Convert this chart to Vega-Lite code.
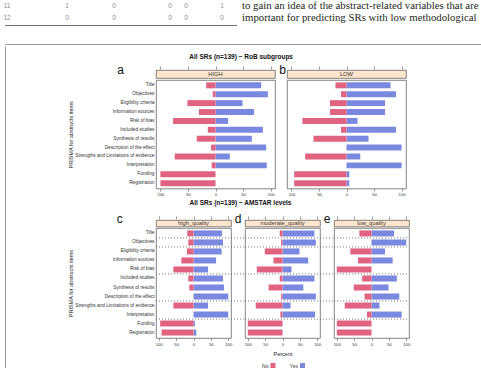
{
  "$schema": "https://vega.github.io/schema/vega-lite/v6.json",
  "padding": {"left": 3, "top": 0, "right": 0, "bottom": 0},
  "background": "white",
  "config": {
    "view": {"stroke": null},
    "font": "Liberation Sans",
    "axis": {"labelFont": "Liberation Sans", "titleFont": "Liberation Sans", "grid": false},
    "title": {"font": "Liberation Sans"},
    "text": {"font": "Liberation Sans"}
  },
  "datasets": {
    "table": [
      {"row": "11", "col": 1, "value": "11"}, {"row": "11", "col": 2, "value": "1"}, {"row": "11", "col": 3, "value": "0"},
      {"row": "11", "col": 4, "value": "0"}, {"row": "11", "col": 5, "value": "0"}, {"row": "11", "col": 6, "value": "1"},
      {"row": "12", "col": 1, "value": "12"}, {"row": "12", "col": 2, "value": "0"}, {"row": "12", "col": 3, "value": "0"},
      {"row": "12", "col": 4, "value": "0"}, {"row": "12", "col": 5, "value": "0"}, {"row": "12", "col": 6, "value": "0"}
    ],
    "separators": [
      {"after": "Title"}, {"after": "Objectives"}, {"after": "Risk of bias"},
      {"after": "Description of the effect"}, {"after": "Interpretation"}
    ],
    "likert": [
      {"panel": "HIGH", "item": "Title", "resp": "No", "pct": 17}, {"panel": "HIGH", "item": "Title", "resp": "Yes", "pct": 83},
      {"panel": "HIGH", "item": "Objectives", "resp": "No", "pct": 5}, {"panel": "HIGH", "item": "Objectives", "resp": "Yes", "pct": 95},
      {"panel": "HIGH", "item": "Eligibility criteria", "resp": "No", "pct": 51}, {"panel": "HIGH", "item": "Eligibility criteria", "resp": "Yes", "pct": 49},
      {"panel": "HIGH", "item": "Information sources", "resp": "No", "pct": 30}, {"panel": "HIGH", "item": "Information sources", "resp": "Yes", "pct": 70},
      {"panel": "HIGH", "item": "Risk of bias", "resp": "No", "pct": 77}, {"panel": "HIGH", "item": "Risk of bias", "resp": "Yes", "pct": 23},
      {"panel": "HIGH", "item": "Included studies", "resp": "No", "pct": 14}, {"panel": "HIGH", "item": "Included studies", "resp": "Yes", "pct": 86},
      {"panel": "HIGH", "item": "Synthesis of results", "resp": "No", "pct": 34}, {"panel": "HIGH", "item": "Synthesis of results", "resp": "Yes", "pct": 66},
      {"panel": "HIGH", "item": "Description of the effect", "resp": "No", "pct": 8}, {"panel": "HIGH", "item": "Description of the effect", "resp": "Yes", "pct": 92},
      {"panel": "HIGH", "item": "Strengths and Limitations of evidence", "resp": "No", "pct": 74}, {"panel": "HIGH", "item": "Strengths and Limitations of evidence", "resp": "Yes", "pct": 26},
      {"panel": "HIGH", "item": "Interpretation", "resp": "No", "pct": 7}, {"panel": "HIGH", "item": "Interpretation", "resp": "Yes", "pct": 93},
      {"panel": "HIGH", "item": "Funding", "resp": "No", "pct": 100}, {"panel": "HIGH", "item": "Funding", "resp": "Yes", "pct": 0},
      {"panel": "HIGH", "item": "Registration", "resp": "No", "pct": 100}, {"panel": "HIGH", "item": "Registration", "resp": "Yes", "pct": 0},

      {"panel": "LOW", "item": "Title", "resp": "No", "pct": 20}, {"panel": "LOW", "item": "Title", "resp": "Yes", "pct": 80},
      {"panel": "LOW", "item": "Objectives", "resp": "No", "pct": 10}, {"panel": "LOW", "item": "Objectives", "resp": "Yes", "pct": 90},
      {"panel": "LOW", "item": "Eligibility criteria", "resp": "No", "pct": 30}, {"panel": "LOW", "item": "Eligibility criteria", "resp": "Yes", "pct": 70},
      {"panel": "LOW", "item": "Information sources", "resp": "No", "pct": 30}, {"panel": "LOW", "item": "Information sources", "resp": "Yes", "pct": 70},
      {"panel": "LOW", "item": "Risk of bias", "resp": "No", "pct": 80}, {"panel": "LOW", "item": "Risk of bias", "resp": "Yes", "pct": 20},
      {"panel": "LOW", "item": "Included studies", "resp": "No", "pct": 10}, {"panel": "LOW", "item": "Included studies", "resp": "Yes", "pct": 90},
      {"panel": "LOW", "item": "Synthesis of results", "resp": "No", "pct": 60}, {"panel": "LOW", "item": "Synthesis of results", "resp": "Yes", "pct": 40},
      {"panel": "LOW", "item": "Description of the effect", "resp": "No", "pct": 0}, {"panel": "LOW", "item": "Description of the effect", "resp": "Yes", "pct": 100},
      {"panel": "LOW", "item": "Strengths and Limitations of evidence", "resp": "No", "pct": 75}, {"panel": "LOW", "item": "Strengths and Limitations of evidence", "resp": "Yes", "pct": 25},
      {"panel": "LOW", "item": "Interpretation", "resp": "No", "pct": 0}, {"panel": "LOW", "item": "Interpretation", "resp": "Yes", "pct": 100},
      {"panel": "LOW", "item": "Funding", "resp": "No", "pct": 95}, {"panel": "LOW", "item": "Funding", "resp": "Yes", "pct": 5},
      {"panel": "LOW", "item": "Registration", "resp": "No", "pct": 95}, {"panel": "LOW", "item": "Registration", "resp": "Yes", "pct": 5},

      {"panel": "high_quality", "item": "Title", "resp": "No", "pct": 18}, {"panel": "high_quality", "item": "Title", "resp": "Yes", "pct": 82},
      {"panel": "high_quality", "item": "Objectives", "resp": "No", "pct": 15}, {"panel": "high_quality", "item": "Objectives", "resp": "Yes", "pct": 85},
      {"panel": "high_quality", "item": "Eligibility criteria", "resp": "No", "pct": 19}, {"panel": "high_quality", "item": "Eligibility criteria", "resp": "Yes", "pct": 81},
      {"panel": "high_quality", "item": "Information sources", "resp": "No", "pct": 35}, {"panel": "high_quality", "item": "Information sources", "resp": "Yes", "pct": 65},
      {"panel": "high_quality", "item": "Risk of bias", "resp": "No", "pct": 58}, {"panel": "high_quality", "item": "Risk of bias", "resp": "Yes", "pct": 42},
      {"panel": "high_quality", "item": "Included studies", "resp": "No", "pct": 15}, {"panel": "high_quality", "item": "Included studies", "resp": "Yes", "pct": 85},
      {"panel": "high_quality", "item": "Synthesis of results", "resp": "No", "pct": 12}, {"panel": "high_quality", "item": "Synthesis of results", "resp": "Yes", "pct": 88},
      {"panel": "high_quality", "item": "Description of the effect", "resp": "No", "pct": 0}, {"panel": "high_quality", "item": "Description of the effect", "resp": "Yes", "pct": 100},
      {"panel": "high_quality", "item": "Strengths and Limitations of evidence", "resp": "No", "pct": 58}, {"panel": "high_quality", "item": "Strengths and Limitations of evidence", "resp": "Yes", "pct": 42},
      {"panel": "high_quality", "item": "Interpretation", "resp": "No", "pct": 0}, {"panel": "high_quality", "item": "Interpretation", "resp": "Yes", "pct": 100},
      {"panel": "high_quality", "item": "Funding", "resp": "No", "pct": 96}, {"panel": "high_quality", "item": "Funding", "resp": "Yes", "pct": 4},
      {"panel": "high_quality", "item": "Registration", "resp": "No", "pct": 92}, {"panel": "high_quality", "item": "Registration", "resp": "Yes", "pct": 8},

      {"panel": "moderate_quality", "item": "Title", "resp": "No", "pct": 8}, {"panel": "moderate_quality", "item": "Title", "resp": "Yes", "pct": 92},
      {"panel": "moderate_quality", "item": "Objectives", "resp": "No", "pct": 4}, {"panel": "moderate_quality", "item": "Objectives", "resp": "Yes", "pct": 96},
      {"panel": "moderate_quality", "item": "Eligibility criteria", "resp": "No", "pct": 51}, {"panel": "moderate_quality", "item": "Eligibility criteria", "resp": "Yes", "pct": 49},
      {"panel": "moderate_quality", "item": "Information sources", "resp": "No", "pct": 26}, {"panel": "moderate_quality", "item": "Information sources", "resp": "Yes", "pct": 74},
      {"panel": "moderate_quality", "item": "Risk of bias", "resp": "No", "pct": 74}, {"panel": "moderate_quality", "item": "Risk of bias", "resp": "Yes", "pct": 26},
      {"panel": "moderate_quality", "item": "Included studies", "resp": "No", "pct": 8}, {"panel": "moderate_quality", "item": "Included studies", "resp": "Yes", "pct": 92},
      {"panel": "moderate_quality", "item": "Synthesis of results", "resp": "No", "pct": 40}, {"panel": "moderate_quality", "item": "Synthesis of results", "resp": "Yes", "pct": 60},
      {"panel": "moderate_quality", "item": "Description of the effect", "resp": "No", "pct": 4}, {"panel": "moderate_quality", "item": "Description of the effect", "resp": "Yes", "pct": 96},
      {"panel": "moderate_quality", "item": "Strengths and Limitations of evidence", "resp": "No", "pct": 77}, {"panel": "moderate_quality", "item": "Strengths and Limitations of evidence", "resp": "Yes", "pct": 23},
      {"panel": "moderate_quality", "item": "Interpretation", "resp": "No", "pct": 6}, {"panel": "moderate_quality", "item": "Interpretation", "resp": "Yes", "pct": 94},
      {"panel": "moderate_quality", "item": "Funding", "resp": "No", "pct": 100}, {"panel": "moderate_quality", "item": "Funding", "resp": "Yes", "pct": 0},
      {"panel": "moderate_quality", "item": "Registration", "resp": "No", "pct": 100}, {"panel": "moderate_quality", "item": "Registration", "resp": "Yes", "pct": 0},

      {"panel": "low_quality", "item": "Title", "resp": "No", "pct": 35}, {"panel": "low_quality", "item": "Title", "resp": "Yes", "pct": 65},
      {"panel": "low_quality", "item": "Objectives", "resp": "No", "pct": 0}, {"panel": "low_quality", "item": "Objectives", "resp": "Yes", "pct": 100},
      {"panel": "low_quality", "item": "Eligibility criteria", "resp": "No", "pct": 61}, {"panel": "low_quality", "item": "Eligibility criteria", "resp": "Yes", "pct": 39},
      {"panel": "low_quality", "item": "Information sources", "resp": "No", "pct": 39}, {"panel": "low_quality", "item": "Information sources", "resp": "Yes", "pct": 61},
      {"panel": "low_quality", "item": "Risk of bias", "resp": "No", "pct": 100}, {"panel": "low_quality", "item": "Risk of bias", "resp": "Yes", "pct": 0},
      {"panel": "low_quality", "item": "Included studies", "resp": "No", "pct": 27}, {"panel": "low_quality", "item": "Included studies", "resp": "Yes", "pct": 73},
      {"panel": "low_quality", "item": "Synthesis of results", "resp": "No", "pct": 51}, {"panel": "low_quality", "item": "Synthesis of results", "resp": "Yes", "pct": 49},
      {"panel": "low_quality", "item": "Description of the effect", "resp": "No", "pct": 20}, {"panel": "low_quality", "item": "Description of the effect", "resp": "Yes", "pct": 80},
      {"panel": "low_quality", "item": "Strengths and Limitations of evidence", "resp": "No", "pct": 77}, {"panel": "low_quality", "item": "Strengths and Limitations of evidence", "resp": "Yes", "pct": 23},
      {"panel": "low_quality", "item": "Interpretation", "resp": "No", "pct": 13}, {"panel": "low_quality", "item": "Interpretation", "resp": "Yes", "pct": 87},
      {"panel": "low_quality", "item": "Funding", "resp": "No", "pct": 100}, {"panel": "low_quality", "item": "Funding", "resp": "Yes", "pct": 0},
      {"panel": "low_quality", "item": "Registration", "resp": "No", "pct": 100}, {"panel": "low_quality", "item": "Registration", "resp": "Yes", "pct": 0}
    ]
  },
  "spacing": 17,
  "vconcat": [
    {
      "spacing": 0,
      "vconcat": [
        {
          "spacing": 5,
          "hconcat": [
            {
              "width": 232, "height": 24,
              "data": {"name": "table"},
              "mark": {"type": "text", "fontSize": 6.5, "color": "#8a8a8a", "baseline": "middle"},
              "encoding": {
                "x": {"field": "col", "type": "quantitative", "scale": {"domain": [1, 2, 3, 4, 5, 6], "range": [2, 62, 109, 165, 181, 217]}, "axis": null},
                "y": {"field": "row", "type": "ordinal", "scale": {"type": "point", "padding": 0.53, "align": 0.41}, "axis": null},
                "text": {"field": "value"}
              }
            },
            {
              "width": 238, "height": 24,
              "data": {"values": [
                {"line": 1, "text": "to gain an idea of the abstract-related variables that are"},
                {"line": 2, "text": "important for predicting SRs with low methodological"}
              ]},
              "mark": {"type": "text", "align": "left", "baseline": "middle", "font": "Liberation Serif", "fontSize": 10.8, "color": "#231f20"},
              "encoding": {
                "x": {"datum": 0, "type": "quantitative", "scale": {"domain": [0, 1]}, "axis": null},
                "y": {"field": "line", "type": "ordinal", "scale": {"type": "point", "padding": 0.53, "align": 0.41}, "axis": null},
                "text": {"field": "text"}
              }
            }
          ]
        },
        {"width": 232, "height": 1, "view": {"fill": "#6f6f6f", "stroke": null}, "data": {"values": []}, "mark": "point"}
      ]
    },
    {
      "spacing": 0,
      "vconcat": [
        {"width": 476, "height": 0.01, "view": {"stroke": "#9a9a9a", "strokeWidth": 1}, "data": {"values": []}, "mark": "point"},
        {
          "spacing": 61,
          "hconcat": [
            {"width": 0.01, "height": 324, "view": {"stroke": "#9a9a9a", "strokeWidth": 1}, "data": {"values": []}, "mark": "point"},
            {
              "spacing": 0,
              "vconcat": [
                {"width": 270, "height": 7.5, "data": {"values": []}, "mark": "point"},
                {
                  "title": {"text": "All SRs (n=139) ~ RoB subgroups", "fontSize": 6.5, "fontWeight": "bold", "anchor": "middle", "offset": 3, "dx": 4, "color": "#111"},
                  "spacing": 2,
                  "hconcat": [
                    {
                      "spacing": 0,
                      "vconcat": [
                        {
                          "width": 119, "height": 8,
                          "view": {"fill": "#FFE5CC", "stroke": "#666", "strokeWidth": 0.8},
                          "title": {"text": "a", "orient": "left", "angle": 0, "align": "right", "baseline": "alphabetic", "anchor": "middle", "offset": 25.5, "fontSize": 12, "fontWeight": "normal", "color": "#111"},
                          "data": {"values": [{"panel": "HIGH"}]},
                          "mark": {"type": "text", "fontSize": 5.8, "color": "#333", "baseline": "middle"},
                          "encoding": {
                            "x": {"datum": 0, "type": "quantitative", "scale": {"domain": [-108, 108]},
                              "axis": {"orient": "top", "values": [-100, -50, 0, 50, 100], "labels": false, "domain": false, "tickSize": 3, "tickWidth": 0.6, "tickColor": "#555", "offset": 1, "title": null}},
                            "text": {"field": "panel"}
                          }
                        },
                        {
                          "width": 119, "height": 108.5,
                          "view": {"stroke": "#666", "strokeWidth": 0.8},
                          "data": {"name": "likert"},
                          "encoding": {
                            "y": {"field": "item", "type": "nominal",
                              "scale": {"domain": ["Title", "Objectives", "Eligibility criteria", "Information sources", "Risk of bias", "Included studies", "Synthesis of results", "Description of the effect", "Strengths and Limitations of evidence", "Interpretation", "Funding", "Registration"], "paddingInner": 0.33, "paddingOuter": 0.265},
                              "axis": {"title": "PRISMA for abstracts items", "titleFontSize": 5.5, "titleFontWeight": "normal", "titleColor": "#222", "titlePadding": 1.5, "labelFontSize": 4.75, "labelColor": "#333", "labelPadding": 2, "ticks": false, "domain": false, "labelLimit": 300}},
                            "color": {"field": "resp", "type": "nominal", "scale": {"domain": ["No", "Yes"], "range": ["#E06482", "#7A88E0"]}, "legend": null}
                          },
                          "layer": [
                            {
                              "transform": [{"filter": "datum.panel === 'HIGH' && datum.resp === 'Yes'"}],
                              "mark": "bar",
                              "encoding": {
                                "x": {"field": "pct", "type": "quantitative", "scale": {"domain": [-108, 108]},
                                  "axis": {"orient": "bottom", "values": [-100, -50, 0, 50, 100], "labelExpr": "'' + abs(datum.value)", "title": null, "domain": false, "tickSize": 2.5, "tickWidth": 0.6, "tickColor": "#555", "labelFontSize": 4.2, "labelColor": "#333", "labelPadding": 1.5, "labelOverlap": false, "labelFlush": false}},
                                "x2": {"datum": 0}
                              }
                            },
                            {
                              "transform": [{"filter": "datum.panel === 'HIGH' && datum.resp === 'No'"}],
                              "mark": "bar",
                              "encoding": {
                                "x": {"field": "pct", "type": "quantitative", "scale": {"domain": [-108, 108], "reverse": true}, "axis": null},
                                "x2": {"datum": 0}
                              }
                            }
                          ],
                          "resolve": {"scale": {"x": "independent"}}
                        }
                      ]
                    },
                    {
                      "spacing": 0,
                      "vconcat": [
                        {
                          "width": 119, "height": 8,
                          "view": {"fill": "#FFE5CC", "stroke": "#666", "strokeWidth": 0.8},
                          "title": {"text": "b", "orient": "left", "angle": 0, "align": "right", "baseline": "alphabetic", "anchor": "middle", "offset": -5.5, "fontSize": 12, "fontWeight": "normal", "color": "#111"},
                          "data": {"values": [{"panel": "LOW"}]},
                          "mark": {"type": "text", "fontSize": 5.8, "color": "#333", "baseline": "middle"},
                          "encoding": {
                            "x": {"datum": 0, "type": "quantitative", "scale": {"domain": [-108, 108]},
                              "axis": {"orient": "top", "values": [-100, -50, 0, 50, 100], "labels": false, "domain": false, "tickSize": 3, "tickWidth": 0.6, "tickColor": "#555", "offset": 1, "title": null}},
                            "text": {"field": "panel"}
                          }
                        },
                        {
                          "width": 119, "height": 108.5,
                          "view": {"stroke": "#666", "strokeWidth": 0.8},
                          "data": {"name": "likert"},
                          "encoding": {
                            "y": {"field": "item", "type": "nominal",
                              "scale": {"domain": ["Title", "Objectives", "Eligibility criteria", "Information sources", "Risk of bias", "Included studies", "Synthesis of results", "Description of the effect", "Strengths and Limitations of evidence", "Interpretation", "Funding", "Registration"], "paddingInner": 0.33, "paddingOuter": 0.265},
                              "axis": null},
                            "color": {"field": "resp", "type": "nominal", "scale": {"domain": ["No", "Yes"], "range": ["#E06482", "#7A88E0"]}, "legend": null}
                          },
                          "layer": [
                            {
                              "transform": [{"filter": "datum.panel === 'LOW' && datum.resp === 'Yes'"}],
                              "mark": "bar",
                              "encoding": {
                                "x": {"field": "pct", "type": "quantitative", "scale": {"domain": [-108, 108]},
                                  "axis": {"orient": "bottom", "values": [-100, -50, 0, 50, 100], "labelExpr": "'' + abs(datum.value)", "title": null, "domain": false, "tickSize": 2.5, "tickWidth": 0.6, "tickColor": "#555", "labelFontSize": 4.2, "labelColor": "#333", "labelPadding": 1.5, "labelOverlap": false, "labelFlush": false}},
                                "x2": {"datum": 0}
                              }
                            },
                            {
                              "transform": [{"filter": "datum.panel === 'LOW' && datum.resp === 'No'"}],
                              "mark": "bar",
                              "encoding": {
                                "x": {"field": "pct", "type": "quantitative", "scale": {"domain": [-108, 108], "reverse": true}, "axis": null},
                                "x2": {"datum": 0}
                              }
                            }
                          ],
                          "resolve": {"scale": {"x": "independent"}}
                        }
                      ]
                    }
                  ]
                },
                {"width": 1, "height": 1.5, "data": {"values": []}, "mark": "point"},
                {
                  "title": {"text": "All SRs (n=139) ~ AMSTAR levels", "fontSize": 6.5, "fontWeight": "bold", "anchor": "middle", "offset": 6, "dx": 1.5, "color": "#111"},
                  "spacing": -18,
                  "hconcat": [
                    {
                      "spacing": 0,
                      "vconcat": [
                        {
                          "width": 75, "height": 6.5,
                          "view": {"fill": "#FFE5CC", "stroke": "#666", "strokeWidth": 0.8},
                          "title": {"text": "c", "orient": "left", "angle": 0, "align": "right", "baseline": "alphabetic", "anchor": "middle", "offset": 27.2, "fontSize": 12, "fontWeight": "normal", "color": "#111"},
                          "data": {"values": [{"panel": "high_quality"}]},
                          "mark": {"type": "text", "fontSize": 5.8, "color": "#333", "baseline": "middle"},
                          "encoding": {
                            "x": {"datum": 0, "type": "quantitative", "scale": {"domain": [-108, 108]},
                              "axis": {"orient": "top", "values": [-100, -50, 0, 50, 100], "labels": false, "domain": false, "tickSize": 3, "tickWidth": 0.6, "tickColor": "#555", "offset": 1, "title": null}},
                            "text": {"field": "panel"}
                          }
                        },
                        {
                          "width": 75, "height": 110,
                          "view": {"stroke": "#666", "strokeWidth": 0.8},
                          "data": {"name": "likert"},
                          "encoding": {
                            "y": {"field": "item", "type": "nominal",
                              "scale": {"domain": ["Title", "Objectives", "Eligibility criteria", "Information sources", "Risk of bias", "Included studies", "Synthesis of results", "Description of the effect", "Strengths and Limitations of evidence", "Interpretation", "Funding", "Registration"], "paddingInner": 0.33, "paddingOuter": 0.265},
                              "axis": {"title": "PRISMA for abstracts items", "titleFontSize": 5.5, "titleFontWeight": "normal", "titleColor": "#222", "titlePadding": 1.5, "labelFontSize": 4.75, "labelColor": "#333", "labelPadding": 2, "ticks": false, "domain": false, "labelLimit": 300}},
                            "color": {"field": "resp", "type": "nominal", "scale": {"domain": ["No", "Yes"], "range": ["#E06482", "#7A88E0"]}, "legend": null}
                          },
                          "layer": [
                            {
                              "data": {"name": "separators"},
                              "mark": {"type": "rule", "strokeDash": [1, 2], "strokeWidth": 0.8},
                              "encoding": {
                                "y": {"field": "after", "type": "nominal", "bandPosition": 1.246,
                                  "axis": {"title": "PRISMA for abstracts items", "titleFontSize": 5.5, "titleFontWeight": "normal", "titleColor": "#222", "titlePadding": 1.5, "labelFontSize": 4.75, "labelColor": "#333", "labelPadding": 2, "ticks": false, "domain": false, "labelLimit": 300}},
                                "x": {"datum": -108, "type": "quantitative", "scale": {"domain": [-108, 108]}, "axis": null},
                                "x2": {"datum": 145},
                                "color": {"value": "#555"}
                              }
                            },
                            {
                              "transform": [{"filter": "datum.panel === 'high_quality' && datum.resp === 'Yes'"}],
                              "mark": "bar",
                              "encoding": {
                                "x": {"field": "pct", "type": "quantitative", "scale": {"domain": [-108, 108]},
                                  "axis": {"orient": "bottom", "values": [-100, -50, 0, 50, 100], "labelExpr": "'' + abs(datum.value)", "title": null, "domain": false, "tickSize": 2.5, "tickWidth": 0.6, "tickColor": "#555", "labelFontSize": 4.2, "labelColor": "#333", "labelPadding": 1.5, "labelOverlap": false, "labelFlush": false}},
                                "x2": {"datum": 0}
                              }
                            },
                            {
                              "transform": [{"filter": "datum.panel === 'high_quality' && datum.resp === 'No'"}],
                              "mark": "bar",
                              "encoding": {
                                "x": {"field": "pct", "type": "quantitative", "scale": {"domain": [-108, 108], "reverse": true}, "axis": null},
                                "x2": {"datum": 0}
                              }
                            }
                          ],
                          "resolve": {"scale": {"x": "independent"}}
                        }
                      ]
                    },
                    {
                      "spacing": -12,
                      "hconcat": [
                        {
                          "spacing": 0,
                          "vconcat": [
                            {
                              "width": 75, "height": 6.5,
                              "view": {"fill": "#FFE5CC", "stroke": "#666", "strokeWidth": 0.8},
                              "title": {"text": "d", "orient": "left", "angle": 0, "align": "right", "baseline": "alphabetic", "anchor": "middle", "offset": -3, "fontSize": 12, "fontWeight": "normal", "color": "#111"},
                              "data": {"values": [{"panel": "moderate_quality"}]},
                              "mark": {"type": "text", "fontSize": 5.8, "color": "#333", "baseline": "middle"},
                              "encoding": {
                                "x": {"datum": 0, "type": "quantitative", "scale": {"domain": [-108, 108]},
                                  "axis": {"orient": "top", "values": [-100, -50, 0, 50, 100], "labels": false, "domain": false, "tickSize": 3, "tickWidth": 0.6, "tickColor": "#555", "offset": 1, "title": null}},
                                "text": {"field": "panel"}
                              }
                            },
                            {
                              "width": 75, "height": 110,
                              "view": {"stroke": "#666", "strokeWidth": 0.8},
                              "data": {"name": "likert"},
                              "encoding": {
                                "y": {"field": "item", "type": "nominal",
                                  "scale": {"domain": ["Title", "Objectives", "Eligibility criteria", "Information sources", "Risk of bias", "Included studies", "Synthesis of results", "Description of the effect", "Strengths and Limitations of evidence", "Interpretation", "Funding", "Registration"], "paddingInner": 0.33, "paddingOuter": 0.265},
                                  "axis": null},
                                "color": {"field": "resp", "type": "nominal", "scale": {"domain": ["No", "Yes"], "range": ["#E06482", "#7A88E0"]}, "legend": null}
                              },
                              "layer": [
                                {
                                  "data": {"name": "separators"},
                                  "mark": {"type": "rule", "strokeDash": [1, 2], "strokeWidth": 0.8},
                                  "encoding": {
                                    "y": {"field": "after", "type": "nominal", "bandPosition": 1.246, "axis": null},
                                    "x": {"datum": -108, "type": "quantitative", "scale": {"domain": [-108, 108]}, "axis": null},
                                    "x2": {"datum": 145},
                                    "color": {"value": "#555"}
                                  }
                                },
                                {
                                  "transform": [{"filter": "datum.panel === 'moderate_quality' && datum.resp === 'Yes'"}],
                                  "mark": "bar",
                                  "encoding": {
                                    "x": {"field": "pct", "type": "quantitative", "scale": {"domain": [-108, 108]},
                                      "axis": {"orient": "bottom", "values": [-100, -50, 0, 50, 100], "labelExpr": "'' + abs(datum.value)", "title": "Percent", "titleFontSize": 5.5, "titleFontWeight": "normal", "titleColor": "#222", "titlePadding": 5, "domain": false, "tickSize": 2.5, "tickWidth": 0.6, "tickColor": "#555", "labelFontSize": 4.2, "labelColor": "#333", "labelPadding": 1.5, "labelOverlap": false, "labelFlush": false}},
                                    "x2": {"datum": 0}
                                  }
                                },
                                {
                                  "transform": [{"filter": "datum.panel === 'moderate_quality' && datum.resp === 'No'"}],
                                  "mark": "bar",
                                  "encoding": {
                                    "x": {"field": "pct", "type": "quantitative", "scale": {"domain": [-108, 108], "reverse": true}, "axis": null},
                                    "x2": {"datum": 0}
                                  }
                                }
                              ],
                              "resolve": {"scale": {"x": "independent"}}
                            },
                            {"width": 1, "height": 5, "data": {"values": []}, "mark": "point"},
                            {
                              "width": 75, "height": 5,
                              "data": {"values": [{"resp": "No"}, {"resp": "Yes"}]},
                              "encoding": {"x": {"field": "resp", "type": "nominal", "scale": {"type": "point", "domain": ["No", "Yes"], "padding": 0.77, "align": 0.615}, "axis": null}},
                              "layer": [
                                {"mark": {"type": "square", "size": 25, "opacity": 1},
                                 "encoding": {"color": {"field": "resp", "type": "nominal", "scale": {"domain": ["No", "Yes"], "range": ["#E06482", "#7A88E0"]}, "legend": null}}},
                                {"mark": {"type": "text", "align": "right", "dx": -4.5, "fontSize": 5, "color": "#333", "baseline": "middle"},
                                 "encoding": {"text": {"field": "resp"}}}
                              ]
                            }
                          ]
                        },
                        {
                          "spacing": 0,
                          "vconcat": [
                            {
                              "width": 75, "height": 6.5,
                              "view": {"fill": "#FFE5CC", "stroke": "#666", "strokeWidth": 0.8},
                              "title": {"text": "e", "orient": "left", "angle": 0, "align": "right", "baseline": "alphabetic", "anchor": "middle", "offset": -3, "fontSize": 12, "fontWeight": "normal", "color": "#111"},
                              "data": {"values": [{"panel": "low_quality"}]},
                              "mark": {"type": "text", "fontSize": 5.8, "color": "#333", "baseline": "middle"},
                              "encoding": {
                                "x": {"datum": 0, "type": "quantitative", "scale": {"domain": [-108, 108]},
                                  "axis": {"orient": "top", "values": [-100, -50, 0, 50, 100], "labels": false, "domain": false, "tickSize": 3, "tickWidth": 0.6, "tickColor": "#555", "offset": 1, "title": null}},
                                "text": {"field": "panel"}
                              }
                            },
                            {
                              "width": 75, "height": 110,
                              "view": {"stroke": "#666", "strokeWidth": 0.8},
                              "data": {"name": "likert"},
                              "encoding": {
                                "y": {"field": "item", "type": "nominal",
                                  "scale": {"domain": ["Title", "Objectives", "Eligibility criteria", "Information sources", "Risk of bias", "Included studies", "Synthesis of results", "Description of the effect", "Strengths and Limitations of evidence", "Interpretation", "Funding", "Registration"], "paddingInner": 0.33, "paddingOuter": 0.265},
                                  "axis": null},
                                "color": {"field": "resp", "type": "nominal", "scale": {"domain": ["No", "Yes"], "range": ["#E06482", "#7A88E0"]}, "legend": null}
                              },
                              "layer": [
                                {
                                  "data": {"name": "separators"},
                                  "mark": {"type": "rule", "strokeDash": [1, 2], "strokeWidth": 0.8},
                                  "encoding": {
                                    "y": {"field": "after", "type": "nominal", "bandPosition": 1.246, "axis": null},
                                    "x": {"datum": -108, "type": "quantitative", "scale": {"domain": [-108, 108]}, "axis": null},
                                    "x2": {"datum": 108},
                                    "color": {"value": "#555"}
                                  }
                                },
                                {
                                  "transform": [{"filter": "datum.panel === 'low_quality' && datum.resp === 'Yes'"}],
                                  "mark": "bar",
                                  "encoding": {
                                    "x": {"field": "pct", "type": "quantitative", "scale": {"domain": [-108, 108]},
                                      "axis": {"orient": "bottom", "values": [-100, -50, 0, 50, 100], "labelExpr": "'' + abs(datum.value)", "title": null, "domain": false, "tickSize": 2.5, "tickWidth": 0.6, "tickColor": "#555", "labelFontSize": 4.2, "labelColor": "#333", "labelPadding": 1.5, "labelOverlap": false, "labelFlush": false}},
                                    "x2": {"datum": 0}
                                  }
                                },
                                {
                                  "transform": [{"filter": "datum.panel === 'low_quality' && datum.resp === 'No'"}],
                                  "mark": "bar",
                                  "encoding": {
                                    "x": {"field": "pct", "type": "quantitative", "scale": {"domain": [-108, 108], "reverse": true}, "axis": null},
                                    "x2": {"datum": 0}
                                  }
                                }
                              ],
                              "resolve": {"scale": {"x": "independent"}}
                            }
                          ]
                        }
                      ]
                    }
                  ]
                }
              ]
            },
            {"width": 0.01, "height": 324, "view": {"stroke": "#9a9a9a", "strokeWidth": 1}, "data": {"values": []}, "mark": "point"}
          ]
        }
      ]
    }
  ]
}
